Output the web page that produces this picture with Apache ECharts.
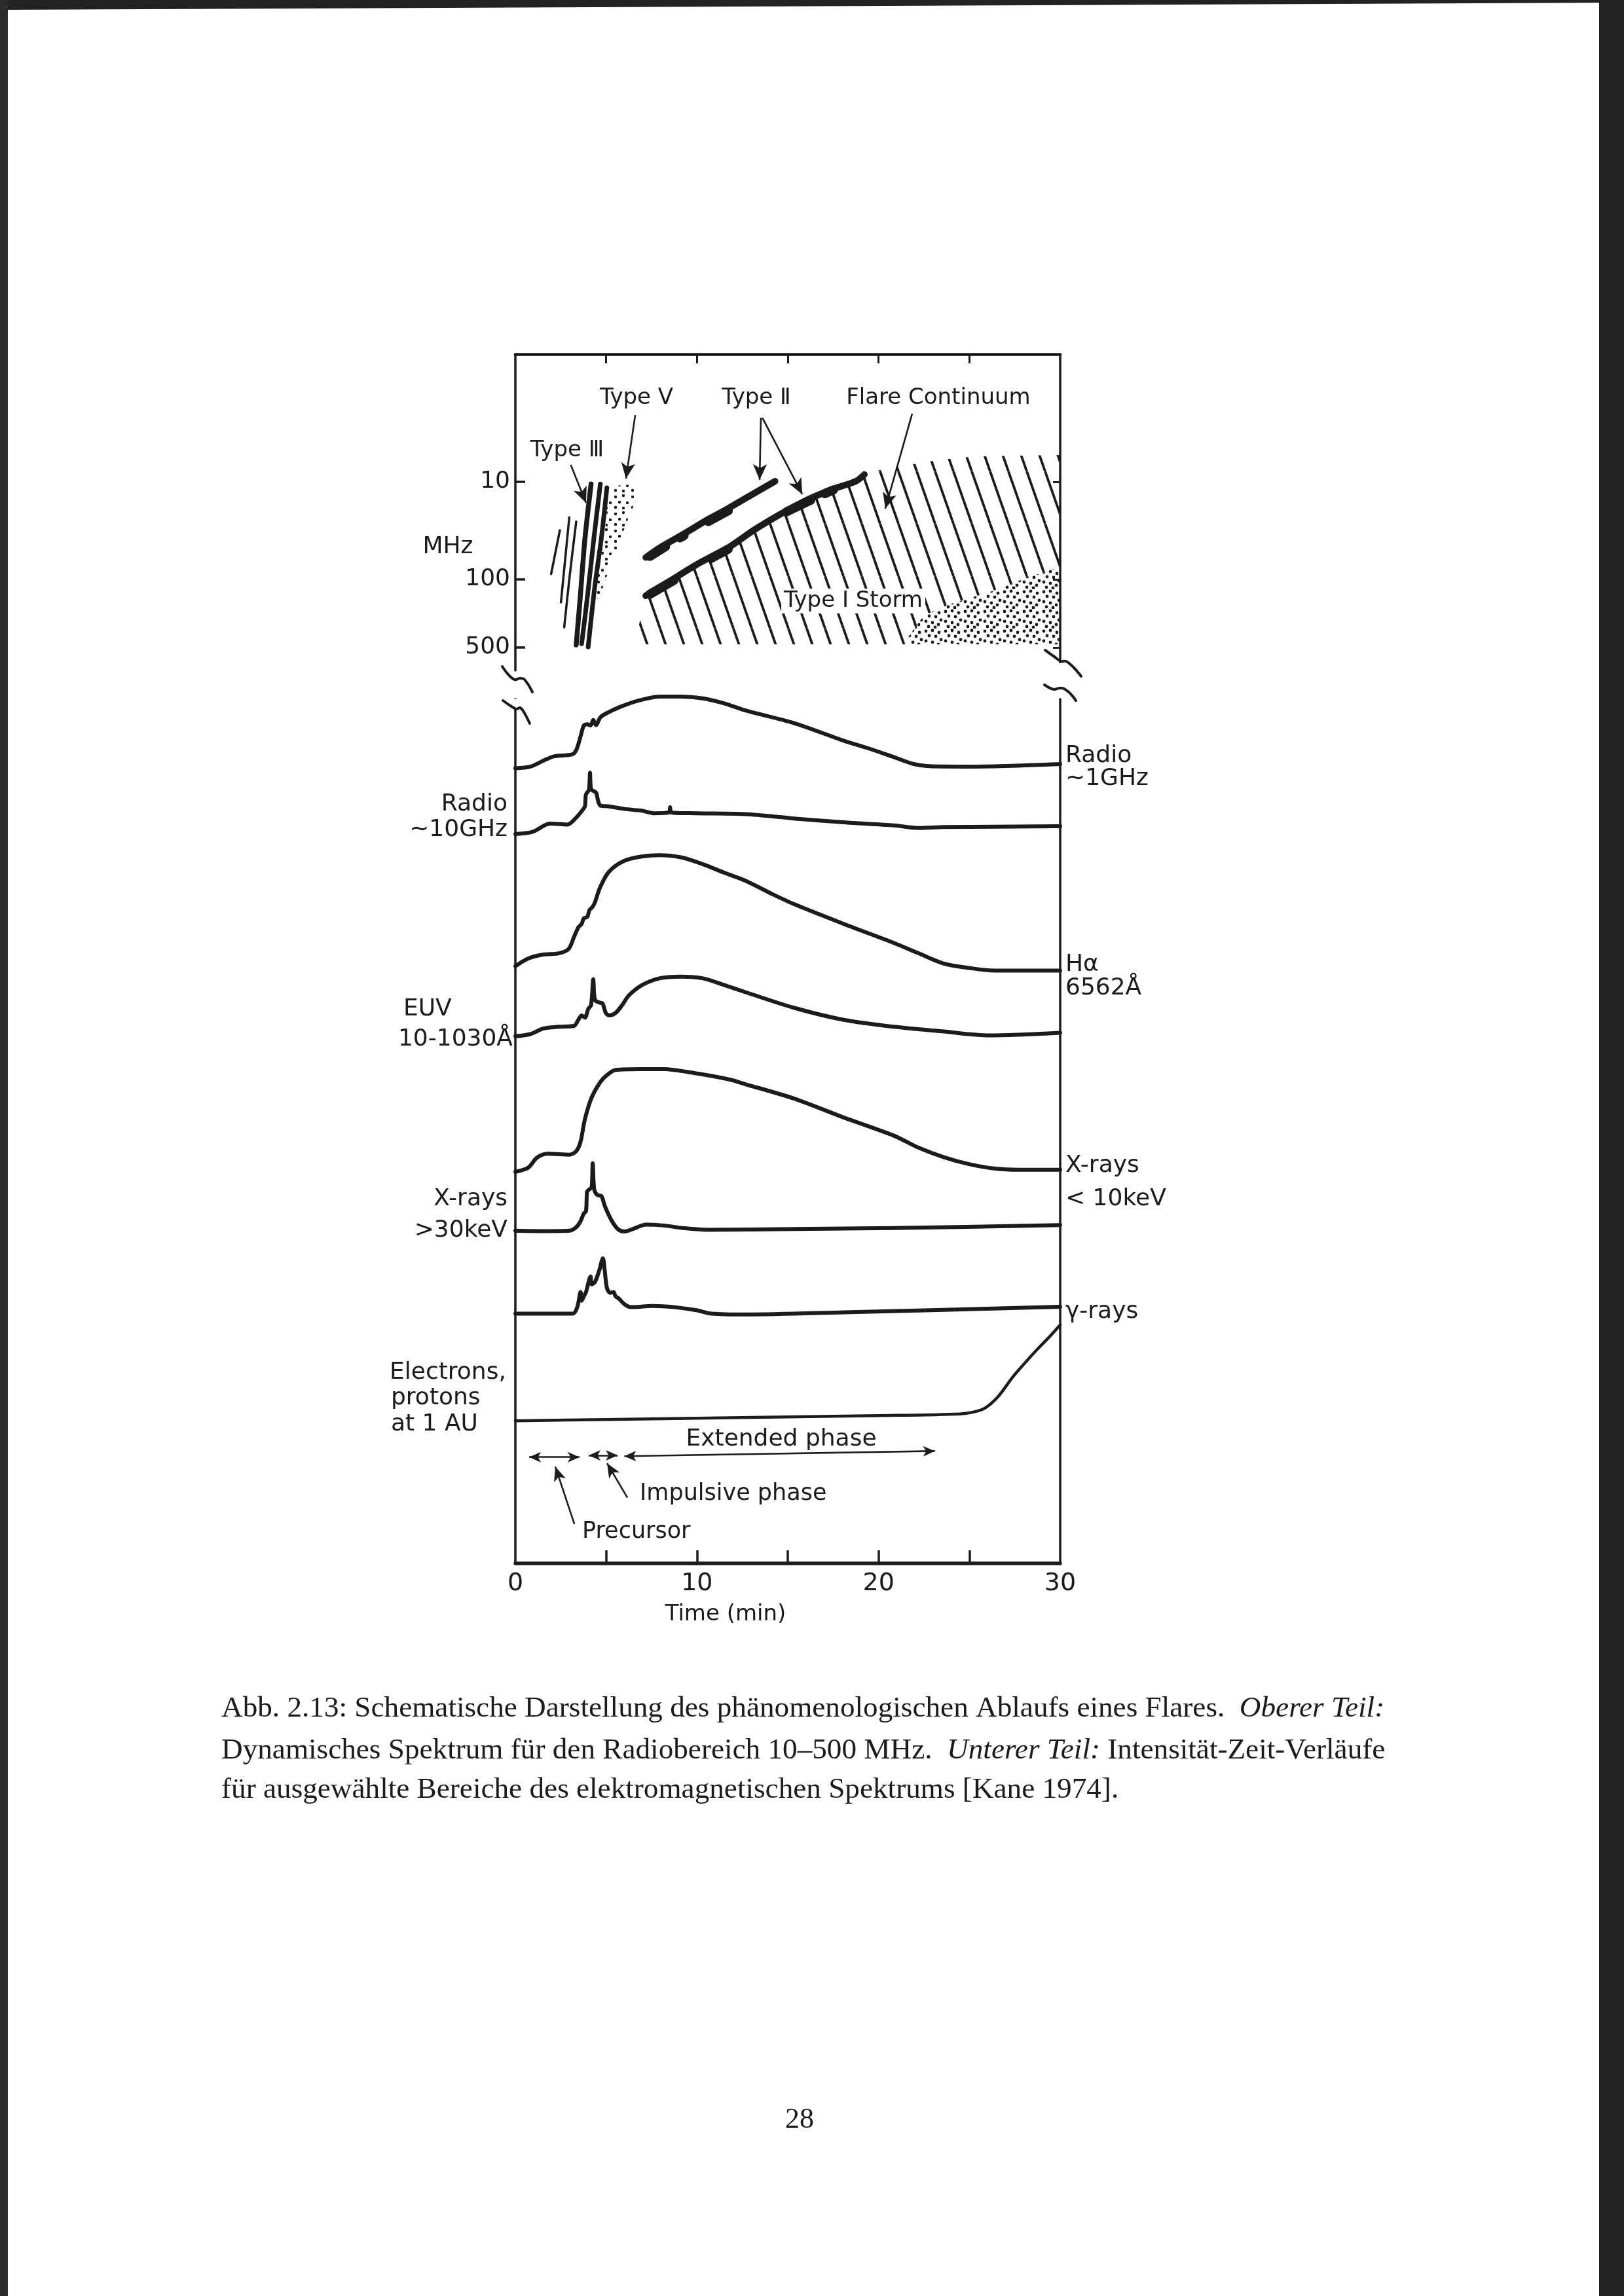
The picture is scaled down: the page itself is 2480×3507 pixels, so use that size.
<!DOCTYPE html>
<html>
<head>
<meta charset="utf-8">
<script src="https://cdn.jsdelivr.net/npm/echarts@6/dist/echarts.min.js"></script>
<style>
html,body{margin:0;padding:0;background:#ffffff;}
#c{width:2480px;height:3507px;}
</style>
</head>
<body>
<div id="c"></div>
<script>
// ---------------- DATA ----------------
// time axis (minutes)
const timeTicks = [5, 10, 15, 20, 25];
const timeLabels = [0, 10, 20, 30];
// spectrum frequency axis (MHz)
const freqTicks = [10, 100, 500];

// Type III bursts: [min, MHz]
const typeIIIThin1 = [[1.97, 88], [2.45, 31.4]];
const typeIIIThin2 = [[2.51, 172], [2.97, 23.1]];
const typeIIIThin3 = [[2.69, 311], [2.99, 92.7], [3.35, 25.6]];
const typeIIIBurst1 = [[3.35, 470], [3.57, 155], [3.83, 38.5], [4.17, 10.5]];
const typeIIIBurst2 = [[3.65, 458], [3.96, 155], [4.32, 38.5], [4.68, 10.5]];
const typeIIIBurst3 = [[4.01, 494], [4.37, 120], [4.73, 38.5], [5.04, 11.5]];

// Type V continuum outline
const typeVRegion = [[5.34, 11.0], [6.53, 10.6], [6.67, 15.0], [6.24, 23.1], [5.70, 42.8], [5.16, 79.4],
  [4.72, 136], [4.51, 159], [4.44, 108], [4.72, 58], [4.98, 26.9], [5.08, 14.5]];

// Type II bands (fundamental / harmonic)
const typeIIUpper = [[7.18, 59.7], [7.96, 47.3], [9.21, 34.8], [10.62, 24.2], [11.72, 18.7], [12.97, 13.7], [14.30, 9.85]];
const typeIILower = [[7.18, 147.6], [8.58, 102], [10.15, 67.7], [11.72, 47.3], [13.13, 31.3], [14.53, 21.8],
  [15.94, 15.7], [17.51, 11.8], [18.75, 9.85], [19.22, 8.4]];
const typeIIUpperBlobs = [[[7.41, 58], [8.27, 46]], [[9.05, 37.5], [9.29, 35.5]], [[10.62, 25.5], [11.72, 19.8]]];
const typeIILowerBlobs = [[[7.41, 142], [8.74, 102]], [[10.78, 61], [11.72, 49]], [[14.93, 20.3], [16.26, 15.4]], [[17.04, 13.2], [17.51, 12.1]]];

// Flare continuum (hatched) and Type I storm (stippled) outlines
const flareContinuumRegion = [[6.56, 464], [7.18, 147.6], [8.58, 102], [10.15, 67.7], [11.72, 47.3], [13.13, 31.3],
  [14.53, 21.8], [15.94, 15.7], [17.51, 11.8], [18.75, 9.85], [19.29, 8.05], [21.28, 6.9], [23.19, 6.0],
  [25.35, 5.47], [30, 5.3], [30, 74.6], [28.13, 97], [26.25, 132], [23.91, 180], [22.50, 234], [21.64, 391], [21.64, 464]];
const typeIStormRegion = [[21.64, 464], [21.64, 391], [22.50, 234], [23.91, 180], [26.25, 132], [28.13, 97], [30, 74.6], [30, 464]];

// annotation arrows in the spectrum: [from, to]
const spectrumArrows = [
  [[3.05, 6.68], [3.89, 16.4]],
  [[6.60, 2.07], [6.09, 9.26]],
  [[13.52, 2.2], [13.45, 9.55]],
  [[13.6, 2.2], [15.8, 13.4]],
  [[21.85, 2.0], [20.37, 18.8]]
];

// intensity-time profiles (arbitrary, stacked units): [min, level]
const radio1GHz = [[0, 92.0], [0.83, 92.2], [1.55, 92.9], [2.15, 93.4], [3.11, 93.6], [3.35, 94.1], [3.59, 95.7], [3.77, 96.95],
  [3.96, 97.1], [4.14, 96.95], [4.29, 97.6], [4.44, 97.0], [4.68, 97.9], [5.04, 98.4], [5.76, 99.1], [6.72, 99.8],
  [7.93, 100.3], [9.12, 100.3], [10.33, 100.1], [11.53, 99.5], [12.67, 98.7], [15.33, 97.25], [18.08, 95.2],
  [19.46, 94.3], [20.84, 93.3], [21.94, 92.5], [22.77, 92.25], [24.98, 92.2], [30, 92.5]];
const radio10GHz = [[0, 84.4], [0.95, 84.65], [1.91, 85.6], [2.88, 85.5], [3.35, 86.3], [3.71, 87.2], [3.83, 87.6], [3.89, 89.0],
  [4.05, 89.5], [4.11, 91.5], [4.17, 89.6], [4.44, 89.2], [4.56, 88.2], [4.68, 87.7], [5.16, 87.6], [6.00, 87.3],
  [6.96, 87.1], [7.68, 86.8], [8.46, 86.9], [8.52, 87.5], [8.58, 86.9], [9.96, 86.8], [12.67, 86.7], [15.33, 86.2],
  [18.08, 85.75], [20.84, 85.4], [22.2, 85.1], [23.6, 85.2], [30, 85.3]];
const hAlpha = [[0, 69.1], [0.71, 70.0], [1.55, 70.45], [2.39, 70.6], [2.93, 71.1], [3.23, 72.5], [3.47, 73.6], [3.65, 74.0],
  [3.77, 74.65], [3.96, 74.8], [4.08, 75.6], [4.26, 76.0], [4.38, 76.5], [4.68, 78.3], [5.16, 80.05], [6.00, 81.3],
  [6.96, 81.8], [7.93, 81.95], [9.12, 81.7], [10.33, 80.9], [11.53, 79.9], [12.67, 79.0], [14.1, 77.5], [15.33, 76.3],
  [18.08, 74.0], [20.84, 71.8], [22.2, 70.6], [23.6, 69.4], [24.98, 68.9], [26.36, 68.6], [30, 68.6]];
const euv = [[0, 61.0], [0.83, 61.25], [1.55, 61.9], [2.39, 62.1], [3.23, 62.2], [3.47, 62.9], [3.65, 63.4], [3.83, 63.15],
  [4.02, 64.2], [4.17, 64.6], [4.29, 67.6], [4.38, 65.2], [4.62, 64.9], [4.80, 64.8], [4.98, 63.7], [5.16, 63.4],
  [5.52, 63.7], [5.88, 64.6], [6.24, 65.7], [6.96, 66.9], [7.93, 67.7], [9.12, 67.9], [10.33, 67.7], [11.53, 66.9],
  [12.67, 66.1], [15.33, 64.3], [18.08, 62.9], [20.84, 62.1], [23.6, 61.55], [26.07, 61.1], [30, 61.4]];
const xraySoft = [[0, 45.3], [0.71, 45.8], [1.19, 46.95], [1.79, 47.4], [2.99, 47.3], [3.35, 47.7], [3.59, 48.8], [3.83, 51.4],
  [4.20, 53.9], [4.68, 55.7], [5.04, 56.5], [5.52, 57.1], [6.96, 57.2], [8.16, 57.2], [9.96, 56.7], [11.77, 56.0],
  [12.67, 55.45], [15.33, 53.8], [18.08, 51.6], [20.84, 49.5], [22.2, 48.1], [23.6, 47.0], [24.98, 46.2], [26.36, 45.7],
  [27.74, 45.55], [30, 45.55]];
const xrayHard = [[0, 38.5], [1.55, 38.45], [2.99, 38.5], [3.35, 38.9], [3.59, 39.6], [3.77, 40.5], [3.89, 40.75], [3.95, 43.0],
  [4.08, 43.3], [4.20, 43.5], [4.26, 46.3], [4.34, 43.3], [4.50, 42.65], [4.74, 42.5], [4.92, 41.4], [5.28, 39.75],
  [5.64, 38.7], [6.00, 38.4], [6.48, 38.7], [7.20, 39.2], [8.16, 39.1], [9.24, 38.8], [10.57, 38.6], [15.33, 38.7],
  [20.84, 38.8], [30, 39.15]];
const gammaRays = [[0, 28.9], [1.55, 28.9], [3.17, 28.9], [3.41, 29.65], [3.59, 31.4], [3.65, 30.4], [3.77, 30.9], [3.89, 31.4],
  [4.14, 33.2], [4.20, 32.3], [4.38, 32.55], [4.62, 33.9], [4.82, 35.3], [4.92, 33.9], [5.04, 31.9], [5.22, 31.3],
  [5.40, 31.4], [5.52, 30.9], [5.70, 30.65], [6.00, 30.0], [6.36, 29.65], [7.56, 29.8], [8.76, 29.65], [9.96, 29.3],
  [10.81, 28.9], [12.67, 28.8], [18.08, 29.05], [30, 29.7]];
const particles = [[0, 16.5], [5, 16.65], [10, 16.8], [15, 16.95], [20, 17.1], [24.5, 17.3], [25.3, 17.55], [25.88, 18.0],
  [26.58, 19.3], [27.4, 21.6], [28.1, 23.3], [28.8, 24.9], [29.4, 26.2], [30, 27.6]];

// phase arrows (double headed) and pointer arrows
const phaseArrows = [[[0.76, 12.3], [3.53, 12.3]], [[4.04, 12.5], [5.63, 12.5]], [[6.0, 12.4], [23.1, 13.0]]];
const pointerArrows = [[[3.25, 4.55], [2.2, 11.2]], [[6.17, 7.6], [5.05, 11.6]]];

// ---------------- STYLE / RENDER ----------------
const INK = '#1b1b1b';
const SANS = '"DejaVu Sans", sans-serif';
const SERIF = '"Liberation Serif", "DejaVu Serif", serif';

function makeCanvas(w, h) { const c = document.createElement('canvas'); c.width = w; c.height = h; return c; }
function hatchPattern() {
  const W = 28, H = 80; const c = makeCanvas(W, H); const g = c.getContext('2d');
  g.strokeStyle = INK; g.lineWidth = 3.8;
  [-W, 0, W].forEach(function (dx) { g.beginPath(); g.moveTo(dx, 0); g.lineTo(dx + W, H); g.stroke(); });
  return c;
}
function dotPattern(size, dots, r) {
  const c = makeCanvas(size, size); const g = c.getContext('2d'); g.fillStyle = INK;
  dots.forEach(function (d) { g.beginPath(); g.arc(d[0], d[1], r, 0, Math.PI * 2); g.fill(); });
  return c;
}
const hatchFill = { image: hatchPattern(), repeat: 'repeat' };
const typeVFill = { image: dotPattern(26, [[4, 5], [16, 3], [10, 13], [22, 14], [4, 21], [16, 22]], 2.2), repeat: 'repeat' };
const stormFill = { image: dotPattern(30, [[4, 4], [14, 3], [24, 6], [9, 11], [19, 12], [27, 17], [4, 19], [14, 21], [23, 24], [8, 27], [18, 28]], 2.4), repeat: 'repeat' };

function polySeries(points, fill, z) {
  return {
    type: 'custom', xAxisIndex: 0, yAxisIndex: 0, data: [points[0]], silent: true, z: z || 1,
    renderItem: function (params, api) {
      return { type: 'polygon', shape: { points: points.map(function (p) { return api.coord(p); }) }, style: { fill: fill, stroke: null, lineWidth: 0 } };
    }
  };
}
function lineSeries(data, width, xi, yi, smooth, z) {
  return {
    type: 'line', xAxisIndex: xi, yAxisIndex: yi, data: data, symbol: 'none', showSymbol: false,
    smooth: smooth, clip: false, silent: true, z: z || 3,
    lineStyle: { color: INK, width: width, cap: 'round', join: 'round' }
  };
}
function arrowSeries(pairs, xi, yi, symbols, anchor, size) {
  return {
    type: 'line', xAxisIndex: xi, yAxisIndex: yi, data: [anchor], symbol: 'none', showSymbol: false,
    lineStyle: { width: 0, opacity: 0 }, silent: true, z: 6,
    markLine: {
      silent: true, animation: false, symbol: symbols, symbolSize: size || [16, 24], label: { show: false },
      lineStyle: { color: INK, width: 2.6, type: 'solid' },
      emphasis: { disabled: true },
      data: pairs.map(function (p) { return [{ coord: p[0] }, { coord: p[1] }]; })
    }
  };
}
function txt(s, x, y, align, size, fam, extra) {
  const a = align || 'center';
  return {
    type: 'text', x: x, y: y, z: 100, silent: true,
    style: Object.assign({
      text: s, fill: INK, fontSize: size || 36, fontFamily: fam || SANS,
      align: a, verticalAlign: 'middle', textAlign: a, textVerticalAlign: 'middle'
    }, extra || {})
  };
}
function squiggle(pts) {
  return { type: 'polyline', z: 100, silent: true, shape: { points: pts, smooth: 0.4 }, style: { stroke: INK, lineWidth: 4, fill: null, lineCap: 'round' } };
}

const series = [
  polySeries(flareContinuumRegion, hatchFill, 1),
  polySeries(typeIStormRegion, stormFill, 1),
  polySeries(typeVRegion, typeVFill, 1),
  lineSeries(typeIIIThin1, 3.5, 0, 0, 0.3),
  lineSeries(typeIIIThin2, 3.5, 0, 0, 0.3),
  lineSeries(typeIIIThin3, 3.5, 0, 0, 0.3),
  lineSeries(typeIIIBurst1, 7.5, 0, 0, 0.3),
  lineSeries(typeIIIBurst2, 7, 0, 0, 0.3),
  lineSeries(typeIIIBurst3, 7, 0, 0, 0.3),
  lineSeries(typeIIUpper, 10, 0, 0, 0.3),
  lineSeries(typeIILower, 10, 0, 0, 0.3)
];
typeIIUpperBlobs.concat(typeIILowerBlobs).forEach(function (b) { series.push(lineSeries(b, 14, 0, 0, false, 4)); });
series.push(arrowSeries(spectrumArrows, 0, 0, ['none', 'arrow'], [0, 10]));

[radio1GHz, radio10GHz, hAlpha, euv, xraySoft, xrayHard, gammaRays].forEach(function (d) {
  series.push(lineSeries(d, 6, 1, 2, 0.3));
});
series.push(lineSeries(particles, 4.5, 1, 2, 0.3));
series.push(arrowSeries(phaseArrows, 1, 2, ['arrow', 'arrow'], [0, 0], [12, 18]));
series.push(arrowSeries(pointerArrows, 1, 2, ['none', 'arrow'], [0, 0], [14, 22]));

const axisLineStyle = function (w) { return { show: true, onZero: false, lineStyle: { color: INK, width: w } }; };

const option = {
  animation: false,
  backgroundColor: '#ffffff',
  grid: [
    { left: 787, top: 541, width: 832, height: 483, containLabel: false, outerBoundsMode: 'none' },
    { left: 787, top: 1068, width: 832, height: 1320, containLabel: false, outerBoundsMode: 'none' }
  ],
  xAxis: [
    { gridIndex: 0, type: 'value', min: 0, max: 30, position: 'top', axisLine: axisLineStyle(4.5),
      axisTick: { show: true, inside: true, length: 14, customValues: timeTicks, lineStyle: { color: INK, width: 3 } },
      axisLabel: { show: false }, splitLine: { show: false } },
    { gridIndex: 1, type: 'value', min: 0, max: 30, position: 'bottom', axisLine: axisLineStyle(5.5),
      axisTick: { show: true, inside: true, length: 20, customValues: timeTicks, lineStyle: { color: INK, width: 3.5 } },
      axisLabel: { show: true, customValues: timeLabels, showMinLabel: true, showMaxLabel: true, margin: 12, color: INK, fontSize: 38, fontFamily: SANS },
      splitLine: { show: false } }
  ],
  yAxis: [
    { gridIndex: 0, type: 'log', logBase: 10, inverse: true, min: 0.49, max: 859, position: 'left', axisLine: axisLineStyle(3.5),
      axisTick: { show: true, inside: true, length: 15, customValues: freqTicks, lineStyle: { color: INK, width: 3.5 } },
      axisLabel: { show: true, customValues: freqTicks, margin: 8, color: INK, fontSize: 36, fontFamily: SANS },
      splitLine: { show: false } },
    { gridIndex: 0, type: 'log', logBase: 10, inverse: true, min: 0.49, max: 859, position: 'right', axisLine: axisLineStyle(3.5),
      axisTick: { show: true, inside: true, length: 11, customValues: freqTicks, lineStyle: { color: INK, width: 3 } },
      axisLabel: { show: false }, splitLine: { show: false } },
    { gridIndex: 1, type: 'value', min: 0, max: 100, position: 'left', axisLine: axisLineStyle(3.5),
      axisTick: { show: false }, axisLabel: { show: false }, splitLine: { show: false } },
    { gridIndex: 1, type: 'value', min: 0, max: 100, position: 'right', axisLine: axisLineStyle(3.5),
      axisTick: { show: false }, axisLabel: { show: false }, splitLine: { show: false } }
  ],
  series: series,
  graphic: [
    // scan borders
    { type: 'polygon', z: 0, silent: true, shape: { points: [[0, 0], [2480, 0], [2480, 4], [0, 15]] }, style: { fill: '#222' } },
    { type: 'rect', z: 0, silent: true, shape: { x: 2442, y: 0, width: 38, height: 3507 }, style: { fill: '#222' } },
    { type: 'rect', z: 0, silent: true, shape: { x: 0, y: 0, width: 12, height: 3507 }, style: { fill: '#2a2a2a' } },
    // axis breaks
    { type: 'rect', z: 99, silent: true, shape: { x: 1612, y: 1013, width: 14, height: 40 }, style: { fill: '#fff' } },
    { type: 'rect', z: 99, silent: true, shape: { x: 781, y: 1068, width: 14, height: 15 }, style: { fill: '#fff' } },
    squiggle([[767, 1018], [776, 1030], [786, 1038], [794, 1036], [801, 1038], [813, 1057]]),
    squiggle([[768, 1070], [781, 1079], [789, 1083], [794, 1081], [799, 1086], [809, 1105]]),
    squiggle([[1596, 993], [1610, 1003], [1620, 1010], [1628, 1010], [1640, 1020], [1651, 1033]]),
    squiggle([[1595, 1046], [1609, 1053], [1618, 1051], [1625, 1052], [1635, 1060], [1643, 1070]]),
    // spectrum annotations
    txt('MHz', 684, 836, 'center', 36),
    txt('Type Ⅲ', 866, 688, 'center', 34),
    txt('Type Ⅴ', 972, 608, 'center', 34),
    txt('Type Ⅱ', 1155, 608, 'center', 34),
    txt('Flare Continuum', 1433, 608, 'center', 34),
    txt('Type I Storm', 1303, 918, 'center', 34, SANS, { backgroundColor: '#ffffff', padding: [2, 4] }),
    // left labels
    txt('Radio', 775, 1229, 'right', 36),
    txt('∼10GHz', 775, 1268, 'right', 36),
    txt('EUV', 616, 1542, 'left', 36),
    txt('10-1030Å', 783, 1588, 'right', 36),
    txt('X-rays', 775, 1832, 'right', 36),
    txt('>30keV', 775, 1880, 'right', 36),
    txt('Electrons,', 595, 2097, 'left', 36),
    txt('protons', 597, 2136, 'left', 36),
    txt('at 1 AU', 597, 2176, 'left', 36),
    // right labels
    txt('Radio', 1627, 1155, 'left', 36),
    txt('∼1GHz', 1627, 1190, 'left', 36),
    txt('Hα', 1627, 1474, 'left', 36),
    txt('6562Å', 1627, 1510, 'left', 36),
    txt('X-rays', 1627, 1781, 'left', 36),
    txt('< 10keV', 1627, 1832, 'left', 36),
    txt('γ-rays', 1627, 2004, 'left', 36),
    // phase annotations
    txt('Extended phase', 1193, 2199, 'center', 36),
    txt('Impulsive phase', 977, 2282, 'left', 35),
    txt('Precursor', 889, 2340, 'left', 35),
    txt('Time (min)', 1108, 2466, 'center', 34),
    // caption
    { type: 'text', x: 338, y: 2610, z: 100, silent: true, style: {
        text: '{r|Abb. 2.13: Schematische Darstellung des phänomenologischen Ablaufs eines Flares.  }{i|Oberer Teil:}',
        align: 'left', verticalAlign: 'middle', textAlign: 'left', textVerticalAlign: 'middle',
        rich: { r: { fontSize: 45.2, fontFamily: SERIF, fill: INK }, i: { fontSize: 45.2, fontFamily: SERIF, fontStyle: 'italic', fill: INK } } } },
    { type: 'text', x: 338, y: 2674, z: 100, silent: true, style: {
        text: '{r|Dynamisches Spektrum für den Radiobereich 10–500 MHz.  }{i|Unterer Teil:}{r| Intensität-Zeit-Verläufe}',
        align: 'left', verticalAlign: 'middle', textAlign: 'left', textVerticalAlign: 'middle',
        rich: { r: { fontSize: 45.2, fontFamily: SERIF, fill: INK }, i: { fontSize: 45.2, fontFamily: SERIF, fontStyle: 'italic', fill: INK } } } },
    txt('für ausgewählte Bereiche des elektromagnetischen Spektrums [Kane 1974].', 338, 2734, 'left', 45.2, SERIF),
    txt('28', 1221, 3238, 'center', 44, SERIF)
  ]
};

const chart = echarts.init(document.getElementById('c'), null, { renderer: 'canvas', width: 2480, height: 3507 });
chart.setOption(option);
</script>
</body>
</html>
